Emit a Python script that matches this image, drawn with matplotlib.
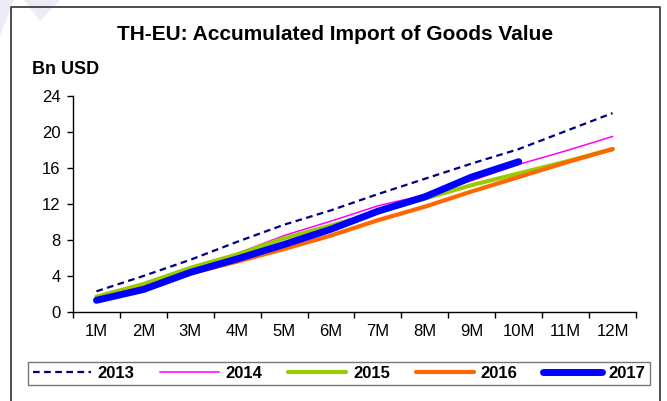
import matplotlib
matplotlib.use("Agg")
import matplotlib.pyplot as plt
from matplotlib.lines import Line2D
from matplotlib.patches import Polygon

plt.rcParams['font.family'] = ['Liberation Sans', 'DejaVu Sans']

months = ["1M", "2M", "3M", "4M", "5M", "6M", "7M", "8M", "9M", "10M", "11M", "12M"]
y2013 = [2.3, 4.0, 5.8, 7.8, 9.7, 11.3, 13.1, 14.8, 16.5, 18.1, 20.1, 22.1]
y2014 = [1.7, 3.2, 4.9, 6.5, 8.5, 10.1, 11.8, 13.0, 14.6, 16.4, 17.9, 19.5]
y2015 = [1.7, 3.1, 4.9, 6.4, 8.2, 9.6, 11.1, 12.6, 14.1, 15.4, 16.7, 18.1]
y2016 = [1.4, 2.7, 4.3, 5.6, 7.0, 8.5, 10.2, 11.7, 13.4, 15.0, 16.6, 18.1]
y2017 = [1.3, 2.5, 4.4, 5.9, 7.5, 9.2, 11.2, 12.8, 15.0, 16.7]
yticks = [0, 4, 8, 12, 16, 20, 24]

W, H = 667, 401
fig = plt.figure(figsize=(W / 100, H / 100), dpi=100)
fig.patch.set_facecolor("white")

# faint decorative stripes in the top-left corner
for pts in ([(0, 401), (14, 401), (0, 365)], [(24, 401), (60, 401), (40, 380)]):
    fig.patches.append(Polygon([(x / W, y / H) for x, y in pts], closed=True,
                               transform=fig.transFigure, facecolor="#ECECF6",
                               edgecolor="none", zorder=0))

# outer frame (left, top, right edges)
fx0, fx1, fy1 = 11 / W, 660 / W, 1 - 7 / H
fig.lines.append(Line2D([fx0, fx0, fx1, fx1], [0, fy1, fy1, 0],
                        transform=fig.transFigure, color="#404040", lw=1.3))

ax = fig.add_axes([73 / W, 1 - 312 / H, (636 - 73) / W, (312 - 96) / H])
x = list(range(len(months)))

ax.plot(x, y2013, color="#000080", lw=1.6, dashes=(3, 2), label="2013", zorder=3)
ax.plot(x, y2014, color="#FF00FF", lw=1.1, label="2014", zorder=3)
ax.plot(x, y2015, color="#99CC00", lw=3.0, label="2015", solid_capstyle="round", zorder=3)
ax.plot(x, y2016, color="#FF6600", lw=3.0, label="2016", solid_capstyle="round", zorder=3)
ax.plot(x[:len(y2017)], y2017, color="#0000FF", lw=5.0, label="2017",
        solid_capstyle="round", zorder=4)

ax.set_xlim(-0.5, len(months) - 0.5)
ax.set_ylim(0, 24)
ax.set_yticks(yticks)
ax.set_yticklabels([str(v) for v in yticks], fontsize=12)

# category labels centred, tick marks on the boundaries
ax.set_xticks([i - 0.5 for i in range(len(months) + 1)])
ax.set_xticklabels([])
ax.set_xticks(x, minor=True)
ax.set_xticklabels(months, minor=True, fontsize=12)
ax.tick_params(axis="x", which="major", length=4, width=1, direction="out", color="black")
ax.tick_params(axis="x", which="minor", length=0, pad=9)
ax.tick_params(axis="y", length=4, width=1, direction="out", pad=5)

for side in ("top", "right"):
    ax.spines[side].set_visible(False)
for side in ("left", "bottom"):
    ax.spines[side].set_linewidth(1.0)
    ax.spines[side].set_color("black")

fig.text(335 / W, 1 - 34 / H, "TH-EU: Accumulated Import of Goods Value",
         ha="center", va="center", fontsize=15, fontweight="bold")
fig.text(32 / W, 1 - 70 / H, "Bn USD", ha="left", va="center",
         fontsize=13, fontweight="bold")

leg = fig.legend(loc="center", bbox_to_anchor=(339 / W, 1 - 373.5 / H), ncol=5,
                 frameon=True, fancybox=False, handlelength=3.5, handletextpad=0.4,
                 columnspacing=1.55, borderpad=0.25, borderaxespad=0,
                 prop={"weight": "bold", "size": 12})
leg.get_frame().set_edgecolor("#555555")
leg.get_frame().set_linewidth(1.0)

fig.savefig("out.png", dpi=100)
